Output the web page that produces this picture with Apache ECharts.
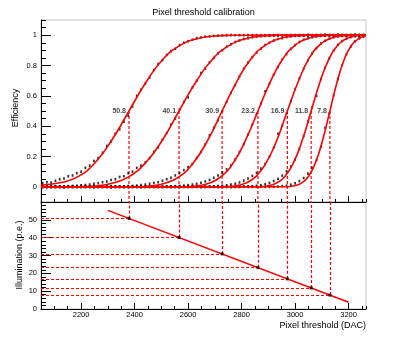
<!DOCTYPE html>
<html>
<head>
<meta charset="utf-8">
<title>Pixel threshold calibration</title>
<script src="https://cdn.jsdelivr.net/npm/echarts@6/dist/echarts.min.js"></script>
<style>
  html, body { margin: 0; padding: 0; background: #fff; }
  #chart { width: 407px; height: 337px; }
</style>
</head>
<body>
<div id="chart"></div>
<script>
// threshold scan points (DAC)
var scanDac = [
  2056, 2072, 2088, 2104, 2120, 2136, 2152, 2168, 2184, 2200,
  2216, 2232, 2248, 2264, 2280, 2296, 2312, 2328, 2344, 2360,
  2376, 2392, 2408, 2424, 2440, 2456, 2472, 2488, 2504, 2520,
  2536, 2552, 2568, 2584, 2600, 2616, 2632, 2648, 2664, 2680,
  2696, 2712, 2728, 2744, 2760, 2776, 2792, 2808, 2824, 2840,
  2856, 2872, 2888, 2904, 2920, 2936, 2952, 2968, 2984, 3000,
  3016, 3032, 3048, 3064, 3080, 3096, 3112, 3128, 3144, 3160,
  3176, 3192, 3208, 3224, 3240, 3256
];

// measured efficiency for each illumination, one value per scan point
var eff508 = [
  0.025, 0.03, 0.028, 0.04, 0.05, 0.055, 0.07, 0.075, 0.09, 0.1,
  0.125, 0.14, 0.17, 0.19, 0.225, 0.27, 0.3, 0.35, 0.38, 0.43,
  0.47, 0.53, 0.6, 0.64, 0.68, 0.72, 0.77, 0.81, 0.835, 0.87,
  0.895, 0.91, 0.935, 0.95, 0.96, 0.97, 0.98, 0.985, 0.99, 0.992,
  0.995, 0.997, 0.998, 1, 1, 1, 1, 1, 1, 1,
  1, 1, 1, 1, 1, 1, 1, 1, 1, 1,
  1, 1, 1, 1, 1, 1, 1, 1, 1, 1,
  1, 1, 1, 1, 1, 1
];
var eff401 = [
  0, 0, 0, 0, 0, 0, 0.004, 0.006, 0.007, 0.01,
  0.012, 0.015, 0.02, 0.024, 0.03, 0.035, 0.045, 0.05, 0.065, 0.07,
  0.09, 0.1, 0.125, 0.14, 0.16, 0.19, 0.23, 0.26, 0.31, 0.355,
  0.41, 0.45, 0.51, 0.56, 0.59, 0.655, 0.7, 0.75, 0.78, 0.82,
  0.85, 0.88, 0.9, 0.925, 0.94, 0.955, 0.965, 0.975, 0.98, 0.986,
  0.99, 0.993, 0.995, 0.997, 0.998, 0.998, 0.999, 1, 1, 1,
  1, 1, 1, 1, 1, 1, 1, 1, 1, 1,
  1, 1, 1, 1, 1, 1
];
var eff309 = [
  0, 0, 0, 0, 0, 0, 0, 0, 0, 0,
  0, 0, 0, 0, 0, 0, 0, 0.002, 0.002, 0.003,
  0.005, 0.006, 0.008, 0.011, 0.015, 0.02, 0.025, 0.03, 0.04, 0.05,
  0.06, 0.075, 0.09, 0.11, 0.13, 0.15, 0.19, 0.23, 0.28, 0.34,
  0.39, 0.44, 0.5, 0.56, 0.62, 0.67, 0.73, 0.78, 0.82, 0.855,
  0.885, 0.91, 0.935, 0.95, 0.965, 0.975, 0.98, 0.988, 0.992, 0.995,
  0.997, 0.998, 0.999, 1, 1, 1, 1, 1, 1, 1,
  1, 1, 1, 1, 1, 1
];
var eff232 = [
  0, 0, 0, 0, 0, 0, 0, 0, 0, 0,
  0, 0, 0, 0, 0, 0, 0, 0, 0, 0,
  0, 0, 0, 0, 0, 0, 0, 0, 0, 0.002,
  0.003, 0.004, 0.006, 0.008, 0.011, 0.015, 0.02, 0.027, 0.036, 0.046,
  0.06, 0.075, 0.095, 0.115, 0.14, 0.18, 0.23, 0.28, 0.345, 0.41,
  0.48, 0.55, 0.63, 0.68, 0.74, 0.79, 0.84, 0.875, 0.91, 0.935,
  0.955, 0.97, 0.98, 0.986, 0.991, 0.995, 0.997, 0.998, 0.999, 1,
  1, 1, 1, 1, 1, 1
];
var eff169 = [
  0, 0, 0, 0, 0, 0, 0, 0, 0, 0,
  0, 0, 0, 0, 0, 0, 0, 0, 0, 0,
  0, 0, 0, 0, 0, 0, 0, 0, 0, 0,
  0, 0, 0, 0, 0, 0, 0, 0, 0, 0.002,
  0.003, 0.005, 0.007, 0.01, 0.015, 0.021, 0.029, 0.041, 0.055, 0.072,
  0.093, 0.12, 0.15, 0.2, 0.26, 0.35, 0.405, 0.485, 0.565, 0.645,
  0.715, 0.78, 0.835, 0.88, 0.915, 0.945, 0.963, 0.977, 0.986, 0.992,
  0.995, 0.997, 0.999, 1, 1, 1
];
var eff118 = [
  0, 0, 0, 0, 0, 0, 0, 0, 0, 0,
  0, 0, 0, 0, 0, 0, 0, 0, 0, 0,
  0, 0, 0, 0, 0, 0, 0, 0, 0, 0,
  0, 0, 0, 0, 0, 0, 0, 0, 0, 0,
  0, 0, 0, 0, 0, 0, 0, 0.002, 0.003, 0.004,
  0.007, 0.011, 0.017, 0.026, 0.038, 0.053, 0.074, 0.102, 0.134, 0.18,
  0.25, 0.335, 0.43, 0.525, 0.6, 0.71, 0.785, 0.848, 0.898, 0.936,
  0.961, 0.977, 0.987, 0.993, 0.997, 0.998
];
var eff78 = [
  0, 0, 0, 0, 0, 0, 0, 0, 0, 0,
  0, 0, 0, 0, 0, 0, 0, 0, 0, 0,
  0, 0, 0, 0, 0, 0, 0, 0, 0, 0,
  0, 0, 0, 0, 0, 0, 0, 0, 0, 0,
  0, 0, 0, 0, 0, 0, 0, 0, 0, 0,
  0, 0, 0, 0, 0, 0.002, 0.005, 0.008, 0.014, 0.023,
  0.038, 0.058, 0.087, 0.125, 0.176, 0.264, 0.39, 0.484, 0.603, 0.712,
  0.802, 0.875, 0.925, 0.959, 0.979, 0.99
];

// fitted s-curves, [DAC, efficiency]
var fit508 = [[2050, 0.012], [2125, 0.028], [2188, 0.067], [2252, 0.159], [2315, 0.309], [2379, 0.5], [2443, 0.691], [2506, 0.841], [2570, 0.933], [2633, 0.977], [2697, 0.994], [2760, 0.999], [2900, 1], [3265, 1]];
var fit401 = [[2050, 0], [2191, 0.001], [2254, 0.006], [2316, 0.023], [2379, 0.067], [2441, 0.159], [2504, 0.309], [2566, 0.5], [2629, 0.691], [2691, 0.841], [2754, 0.933], [2816, 0.977], [2879, 0.994], [2941, 0.999], [3050, 1], [3265, 1]];
var fit309 = [[2050, 0], [2406, 0.001], [2460, 0.006], [2513, 0.023], [2567, 0.067], [2620, 0.159], [2674, 0.309], [2727, 0.5], [2781, 0.691], [2834, 0.841], [2888, 0.933], [2941, 0.977], [2995, 0.994], [3048, 0.999], [3150, 1], [3265, 1]];
var fit232 = [[2050, 0], [2585, 0.001], [2631, 0.006], [2677, 0.023], [2723, 0.067], [2769, 0.159], [2815, 0.309], [2861, 0.5], [2907, 0.691], [2953, 0.841], [2999, 0.933], [3045, 0.977], [3091, 0.994], [3137, 0.999], [3200, 1], [3265, 1]];
var fit169 = [[2050, 0], [2734, 0.001], [2774, 0.006], [2813, 0.023], [2853, 0.067], [2892, 0.159], [2932, 0.309], [2971, 0.5], [3011, 0.691], [3050, 0.841], [3090, 0.933], [3129, 0.977], [3169, 0.994], [3208, 0.999], [3265, 1]];
var fit118 = [[2050, 0], [2862, 0.001], [2895, 0.006], [2928, 0.023], [2961, 0.067], [2994, 0.159], [3027, 0.309], [3060, 0.5], [3093, 0.691], [3126, 0.841], [3159, 0.933], [3192, 0.977], [3225, 0.994], [3265, 1]];
var fit78 = [[2050, 0], [2968, 0.001], [2995, 0.006], [3022, 0.023], [3049, 0.067], [3076, 0.159], [3103, 0.309], [3130, 0.5], [3157, 0.691], [3184, 0.841], [3211, 0.933], [3238, 0.977], [3265, 0.996]];

// 50% points and the illumination they belong to
var illumination = [50.8, 40.1, 30.9, 23.2, 16.9, 11.8, 7.8];
var thresholdDac = [2379, 2566, 2727, 2861, 2971, 3060, 3130];
var calibFit = [[2300, 55.3], [3200, 3.8]];

// tick values
var xMajor = [2200, 2400, 2600, 2800, 3000, 3200];
var effMajor = [0, 0.2, 0.4, 0.6, 0.8, 1];
var illumMajor = [0, 10, 20, 30, 40, 50];

var effSets = [eff508, eff401, eff309, eff232, eff169, eff118, eff78];
var fitSets = [fit508, fit401, fit309, fit232, fit169, fit118, fit78];

var FONT = 'Liberation Sans';
var RED = '#ff0000';
var xMin = 2050, xMax = 3265;

function dashedStyle(w) {
  return { color: RED, width: w || 1, type: [3, 2] };
}

var chart = echarts.init(document.getElementById('chart'));

function xAxisPair(grid, withLabels) {
  return [{
    gridIndex: grid, type: 'value', min: xMin, max: xMax, position: 'bottom',
    axisLine: { onZero: false, lineStyle: { color: '#000', width: 1 } },
    axisTick: { inside: true, length: 6, customValues: xMajor, lineStyle: { color: '#000' } },
    axisLabel: withLabels
      ? { customValues: xMajor, fontSize: 7.5, margin: 2, color: '#000', fontFamily: FONT,
          formatter: function (v) { return String(v); } }
      : { show: false },
    splitLine: { show: false }
  }, {
    gridIndex: grid, type: 'value', min: xMin, max: xMax, interval: 50, position: 'bottom',
    axisLine: { show: false, onZero: false },
    axisTick: { inside: true, length: 3, lineStyle: { color: '#000' } },
    axisLabel: { show: false },
    splitLine: { show: false }
  }];
}

function yAxisPair(grid, min, max, major, minorStep) {
  return [{
    gridIndex: grid, type: 'value', min: min, max: max, position: 'left',
    axisLine: { onZero: false, lineStyle: { color: '#000', width: 1 } },
    axisTick: { inside: true, length: 10, customValues: major, lineStyle: { color: '#000' } },
    axisLabel: { customValues: major, fontSize: 7.5, margin: 4, color: '#000', fontFamily: FONT },
    splitLine: { show: false }
  }, {
    gridIndex: grid, type: 'value', min: min, max: max, interval: minorStep, position: 'left',
    axisLine: { show: false, onZero: false },
    axisTick: { inside: true, length: 5, lineStyle: { color: '#000' } },
    axisLabel: { show: false },
    splitLine: { show: false }
  }];
}

var series = [];

effSets.forEach(function (eff) {
  series.push({
    type: 'scatter', xAxisIndex: 0, yAxisIndex: 0, silent: true, z: 3,
    data: scanDac.map(function (d, i) { return [d, eff[i]]; }),
    symbol: 'rect', symbolSize: [1.8, 2.6], itemStyle: { color: '#000' }
  });
});

fitSets.forEach(function (fit) {
  series.push({
    type: 'line', xAxisIndex: 0, yAxisIndex: 0, data: fit,
    smooth: 0.5, symbol: 'none', silent: true, z: 4,
    lineStyle: { color: RED, width: 1.6 }
  });
});

// dashed drop lines from the 50% points in the top panel
thresholdDac.forEach(function (d) {
  series.push({
    type: 'line', xAxisIndex: 0, yAxisIndex: 0, data: [[d, 0.5], [d, -0.1]],
    symbol: 'none', silent: true, z: 2, lineStyle: dashedStyle(1.2)
  });
});

// labels at the 50% points
series.push({
  type: 'scatter', xAxisIndex: 0, yAxisIndex: 0, silent: true, z: 5,
  data: thresholdDac.map(function (d) { return [d, 0.5]; }),
  symbolSize: 0, itemStyle: { color: RED },
  label: {
    show: true, position: 'left', distance: 3,
    fontSize: 7, fontWeight: 'bold', color: '#111', fontFamily: FONT,
    formatter: function (p) { return illumination[p.dataIndex].toFixed(1); }
  }
});

// calibration panel
var calibLines = [];
thresholdDac.forEach(function (d, i) {
  calibLines.push([{ coord: [xMin, illumination[i]], lineStyle: dashedStyle(1.2) }, { coord: [d, illumination[i]] }]);
  calibLines.push([{ coord: [d, illumination[i]], lineStyle: dashedStyle(1.2) }, { coord: [d, 60] }]);
});

series.push({
  type: 'line', xAxisIndex: 2, yAxisIndex: 2, data: calibFit, symbol: 'none',
  silent: true, z: 3, lineStyle: { color: RED, width: 1.5 }
});
series.push({
  type: 'scatter', xAxisIndex: 2, yAxisIndex: 2, silent: true, z: 4,
  data: thresholdDac.map(function (d, i) { return [d, illumination[i]]; }),
  symbol: 'rect', symbolSize: [3, 3], itemStyle: { color: '#000' },
  markLine: {
    silent: true, symbol: ['none', 'none'], label: { show: false }, animation: false,
    lineStyle: dashedStyle(1.2), emphasis: { disabled: true }, z: 2,
    data: calibLines
  }
});

var option = {
  animation: false,
  backgroundColor: '#fff',
  textStyle: { fontFamily: FONT },
  title: {
    text: 'Pixel threshold calibration', left: 'center', top: 3,
    textStyle: { fontSize: 9, fontWeight: 'normal', color: '#000', fontFamily: FONT }
  },
  grid: [
    { left: 41, right: 41, top: 20, height: 182, show: true, borderColor: '#c4c4c4', borderWidth: 1, outerBoundsMode: 'none' },
    { left: 41, right: 41, top: 202, height: 107, show: true, borderColor: '#c4c4c4', borderWidth: 1, outerBoundsMode: 'none' }
  ],
  xAxis: xAxisPair(0, false).concat(xAxisPair(1, true)),
  yAxis: yAxisPair(0, -0.1, 1.1, effMajor, 0.05).concat(yAxisPair(1, 0, 60, illumMajor, 2)),
  graphic: [{
    type: 'text', right: 41, top: 321,
    style: { text: 'Pixel threshold (DAC)', font: '9px "Liberation Sans"', fill: '#000' }
  }, {
    type: 'text', x: 16, y: 108, rotation: Math.PI / 2,
    style: { text: 'Efficiency', font: '9px "Liberation Sans"', fill: '#000', align: 'center', verticalAlign: 'middle' }
  }, {
    type: 'text', x: 20, y: 255, rotation: Math.PI / 2,
    style: { text: 'Illumination (p.e.)', font: '9px "Liberation Sans"', fill: '#000', align: 'center', verticalAlign: 'middle' }
  }],
  series: series
};

chart.setOption(option);
</script>
</body>
</html>
